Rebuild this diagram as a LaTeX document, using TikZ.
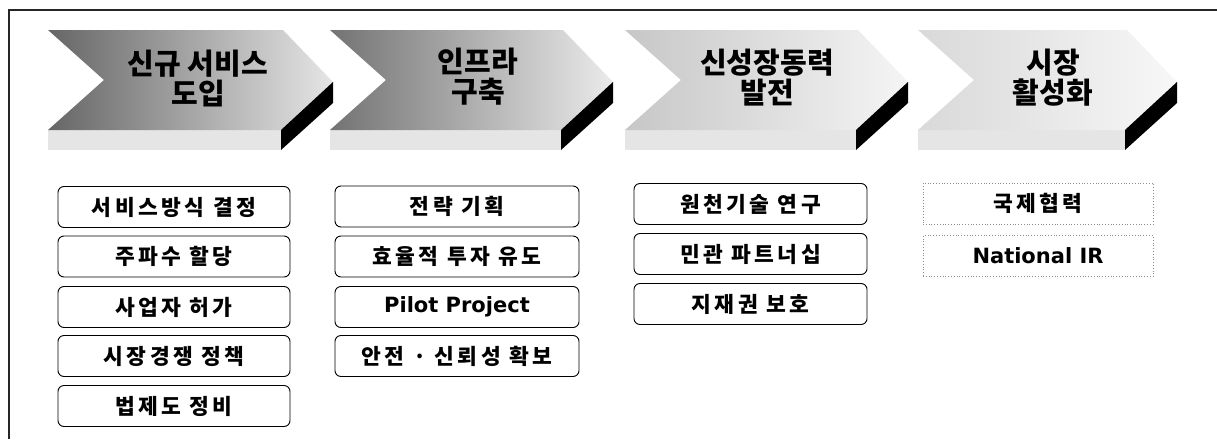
\documentclass[tikz,border=0pt]{standalone}
\usepackage{fontspec}
\newfontfamily\kr{Noto Sans CJK KR}
\newfontfamily\krbox{Noto Sans CJK KR}[LetterSpace=16]
\newfontfamily\latbox{DejaVu Sans}
\begin{document}
\begin{tikzpicture}[x=1pt,y=-1pt,
  title/.style={font=\kr\bfseries\fontsize{29}{30}\selectfont, align=center, inner sep=0pt, text=black},
  itembox/.style={draw=black, line width=0.9pt, rounded corners=6pt, minimum height=41pt, inner sep=0pt,
     font=\krbox\bfseries\fontsize{21.5}{24}\selectfont},
  dotbox/.style={draw=black!45, line width=0.8pt, dotted, minimum height=41pt, inner sep=0pt,
     font=\krbox\bfseries\fontsize{21.5}{24}\selectfont},
  latin/.style={font=\latbox\bfseries\fontsize{21}{24}\selectfont},
  side/.style={fill=black},
  bottomface/.style={fill=black!10},
  frame/.style={draw=black!85, line width=1.3pt}
]
\useasboundingbox (0,0) rectangle (1217,439);
\fill[white] (0,0) rectangle (1217,439);
% outer frame (top and left only)
\coordinate (fTL) at (9,10);
\coordinate (fTR) at (1217,10);
\coordinate (fBL) at (9,439);
\draw[frame] (fTR) -- (fTL) -- (fBL);

% chevrons
\foreach \L/\R/\dk/\lt in {48/333/60/10, 330/613/55/8, 625/908/22/4, 918/1177/15/3}{
  \pgfmathsetmacro{\tr}{\R-50}
  \pgfmathsetmacro{\br}{\R-52}
  \pgfmathsetmacro{\nt}{\L+56}
  % bottom face
  \fill[bottomface] (\L,130) -- (\br,130) -- (\br,150) -- (\L,150) -- cycle;
  % top face
  \shade[left color=black!\dk, right color=black!\lt]
     (\L,30) -- (\tr,30) -- (\R,82) -- (\br,130) -- (\L,130) -- (\nt,80) -- cycle;
  % side
  \fill[side] (\R,82) -- (\br,130) -- (\br,150) -- (\R,103) -- cycle;
}

% titles
\node[title] (t1) at (198,78) {신규 서비스\\도입};
\node[title] (t2) at (478,77) {인프라\\구축};
\node[title] (t3) at (767,78) {신성장동력\\발전};
\node[title] (t4) at (1053,78) {시장\\활성화};

% column 1
\begin{scope}[every node/.append style={itembox, minimum width=232pt}]
\node (a1) at (174,207) {서비스방식 결정};
\node (a2) at (174,256.5) {주파수 할당};
\node (a3) at (174,307) {사업자 허가};
\node (a4) at (174,356) {시장경쟁 정책};
\node (a5) at (174,406) {법제도 정비};
\end{scope}
% column 2
\begin{scope}[every node/.append style={itembox, minimum width=244pt}]
\node (b1) at (457,206.5) {전략 기획};
\node (b2) at (457,256.5) {효율적 투자 유도};
\node[latin] (b3) at (457,307) {Pilot Project};
\node (b4) at (457,356) {안전 · 신뢰성 확보};
\end{scope}
% column 3
\begin{scope}[every node/.append style={itembox, minimum width=233pt}]
\node (c1) at (750.5,204) {원천기술 연구};
\node (c2) at (750.5,254) {민관 파트너십};
\node (c3) at (750.5,304) {지재권 보호};
\end{scope}
% column 4
\begin{scope}[every node/.append style={dotbox, minimum width=230pt}]
\node (d1) at (1038,203.5) {국제협력};
\node[latin] (d2) at (1038,256) {National IR};
\end{scope}
\end{tikzpicture}
\end{document}
